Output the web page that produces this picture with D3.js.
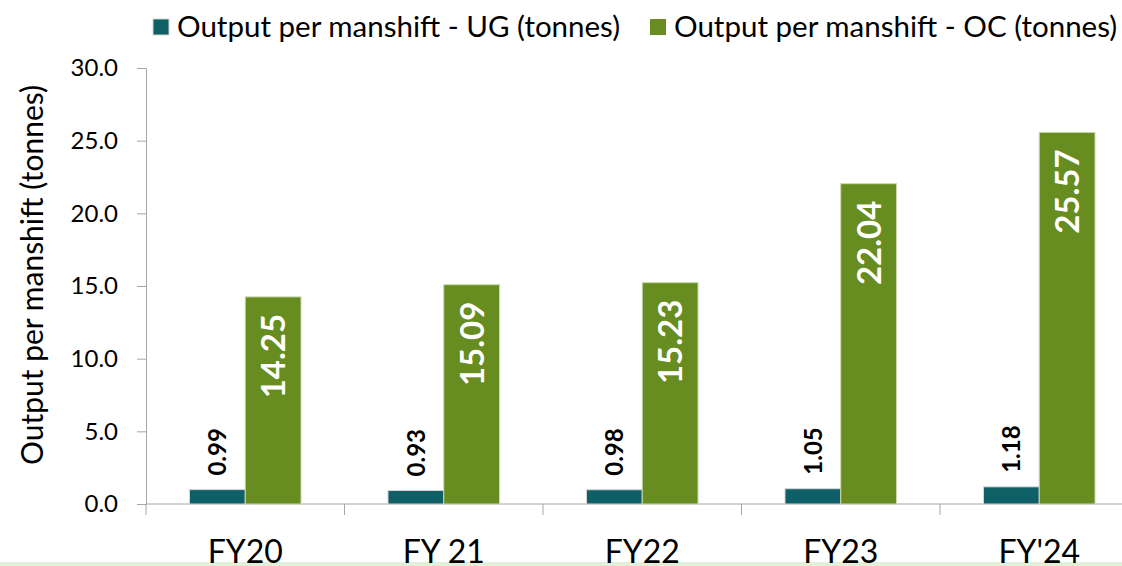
<!DOCTYPE html>
<html>
<head>
<meta charset="utf-8">
<script src="https://cdn.jsdelivr.net/npm/d3@7"></script>
<style>
  body { margin: 0; background: #fff; }
  svg { display: block; font-family: Lato, "Open Sans", sans-serif; }
</style>
</head>
<body>
<div id="chart"></div>
<script>
// chart values
const categories = ["FY20", "FY 21", "FY22", "FY23", "FY'24"];
const ugValues = [0.99, 0.93, 0.98, 1.05, 1.18];
const ocValues = [14.25, 15.09, 15.23, 22.04, 25.57];
const seriesNames = ["Output per manshift - UG (tonnes)", "Output per manshift - OC (tonnes)"];
const yTicks = [0, 5, 10, 15, 20, 25, 30];

const width = 1122, height = 566;
const colors = { UG: "#0e5f66", OC: "#678c1f" };

const svg = d3.select("#chart")
  .append("svg")
  .attr("width", width)
  .attr("height", height);

// faint band along the bottom edge
svg.append("rect")
  .attr("x", 0).attr("y", 562)
  .attr("width", width).attr("height", 4)
  .attr("fill", "#e2f0d9");

const x = d3.scaleBand()
  .domain(categories)
  .range([146, 146 + 198.5 * categories.length]);

const xInner = d3.scaleBand()
  .domain(["UG", "OC"])
  .range([43.5, 155]);

const y = d3.scaleLinear()
  .domain([0, 30])
  .range([504, 68]);

const rows = categories.map((c, i) => ({ cat: c, UG: ugValues[i], OC: ocValues[i] }));

// y axis
const yAxis = svg.append("g")
  .attr("transform", "translate(146,0)")
  .call(d3.axisLeft(y).tickValues(yTicks).tickFormat(d3.format(".1f")).tickSize(9).tickPadding(19));
yAxis.select(".domain").attr("stroke", "#a6a6a6");
yAxis.selectAll(".tick line").attr("stroke", "#a6a6a6");
yAxis.selectAll(".tick text")
  .attr("fill", "#000")
  .style("font-size", "24px")
  .style("font-family", "Lato, sans-serif");

// x axis line + boundary ticks
svg.append("line")
  .attr("x1", 146).attr("x2", width)
  .attr("y1", y(0)).attr("y2", y(0))
  .attr("stroke", "#a6a6a6");

svg.selectAll(".xtick")
  .data(categories)
  .join("line")
  .attr("class", "xtick")
  .attr("x1", d => x(d)).attr("x2", d => x(d))
  .attr("y1", y(0)).attr("y2", y(0) + 11)
  .attr("stroke", "#a6a6a6");

svg.selectAll(".xlabel")
  .data(categories)
  .join("text")
  .attr("class", "xlabel")
  .attr("x", d => x(d) + x.bandwidth() / 2)
  .attr("y", 563)
  .attr("text-anchor", "middle")
  .style("font-size", "32px")
  .attr("fill", "#000")
  .text(d => d);

// bars
const groups = svg.selectAll(".grp")
  .data(rows)
  .join("g")
  .attr("class", "grp")
  .attr("transform", d => `translate(${x(d.cat)},0)`);

groups.append("rect")
  .attr("x", xInner("UG"))
  .attr("width", xInner.bandwidth())
  .attr("y", d => y(d.UG))
  .attr("height", d => y(0) - y(d.UG))
  .attr("fill", colors.UG)
  .attr("stroke", "#d4d4d4")
  .attr("stroke-width", 1);

groups.append("rect")
  .attr("x", xInner("OC"))
  .attr("width", xInner.bandwidth())
  .attr("y", d => y(d.OC))
  .attr("height", d => y(0) - y(d.OC))
  .attr("fill", colors.OC)
  .attr("stroke", "#c9d8ae")
  .attr("stroke-width", 1);

// value labels
groups.append("text")
  .attr("transform", d => `translate(${xInner("UG") + xInner.bandwidth() / 2 + 9},${y(d.UG) - 14}) rotate(-90)`)
  .attr("text-anchor", "start")
  .style("font-size", "24px")
  .style("font-weight", "bold")
  .attr("fill", "#000")
  .text(d => d3.format(".2f")(d.UG));

groups.append("text")
  .attr("transform", d => `translate(${xInner("OC") + xInner.bandwidth() / 2 + 12},${y(d.OC) + 17}) rotate(-90)`)
  .attr("text-anchor", "end")
  .style("font-size", "33px")
  .style("font-weight", "bold")
  .attr("fill", "#fff")
  .text(d => d3.format(".2f")(d.OC));

// y axis title
svg.append("text")
  .attr("transform", "translate(43,275) rotate(-90)")
  .attr("text-anchor", "middle")
  .style("font-size", "30px")
  .attr("fill", "#000")
  .text("Output per manshift (tonnes)");

// legend
const legendX = [153, 650];
const legend = svg.selectAll(".leg")
  .data(seriesNames)
  .join("g")
  .attr("class", "leg")
  .attr("transform", (d, i) => `translate(${legendX[i]},0)`);

legend.append("rect")
  .attr("x", 0).attr("y", 19)
  .attr("width", 16).attr("height", 16)
  .attr("fill", (d, i) => i === 0 ? colors.UG : colors.OC)
  .attr("stroke", (d, i) => i === 0 ? "#d4d4d4" : "none");

legend.append("text")
  .attr("x", 24).attr("y", 37)
  .style("font-size", "29.5px")
  .attr("fill", "#000")
  .text(d => d);
</script>
</body>
</html>
